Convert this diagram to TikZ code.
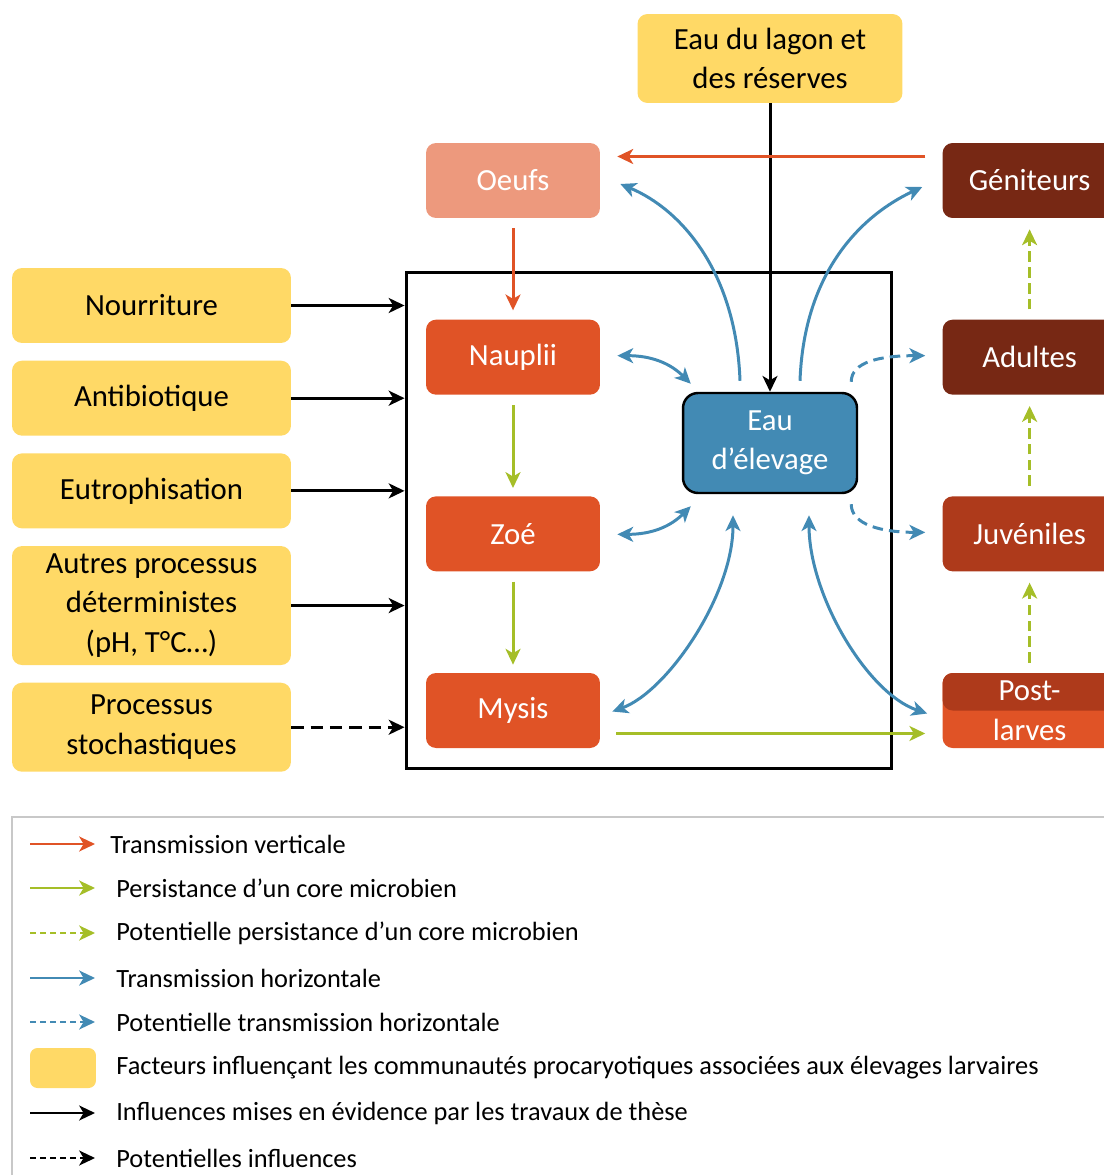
\documentclass[tikz,border=0pt]{standalone}
\usepackage{fontspec}
\setmainfont{Carlito}
\usetikzlibrary{positioning,arrows.meta,calc}

\definecolor{factoryellow}{RGB}{255,217,102}
\definecolor{eggpink}{RGB}{237,153,125}
\definecolor{larvaorange}{RGB}{224,83,38}
\definecolor{juvbrown}{RGB}{174,58,27}
\definecolor{adultbrown}{RGB}{119,40,20}
\definecolor{waterblue}{RGB}{66,138,180}
\definecolor{persistgreen}{RGB}{165,190,40}
\definecolor{legendgray}{RGB}{200,200,200}

\begin{document}
\begin{tikzpicture}[
    x=0.02cm, y=-0.02cm,
    font=\fontsize{17.5}{22.5}\selectfont,
    >={Stealth[length=9pt,width=8.5pt,inset=2.5pt]},
    node distance=2.02cm and 6.84cm,
    factorbox/.style={
        fill=factoryellow,
        rounded corners=0.2cm,
        align=center,
        inner sep=1pt,
        minimum width=5.58cm,
        minimum height=1.5cm
    },
    stagebox/.style={
        rounded corners=0.2cm,
        align=center,
        text=white,
        inner sep=1pt,
        minimum width=3.48cm,
        minimum height=1.5cm
    },
    waterbox/.style={
        draw=black,
        line width=1.4pt,
        fill=waterblue,
        text=white,
        rounded corners=0.3cm,
        align=center,
        minimum width=3.48cm,
        minimum height=2cm
    },
    vertarrow/.style={->, draw=larvaorange, line width=1.7pt},
    persist/.style={->, draw=persistgreen, line width=1.7pt},
    persistdash/.style={persist, dash pattern=on 6pt off 3pt},
    horiz/.style={->, draw=waterblue, line width=1.7pt},
    horizboth/.style={horiz, <->},
    horizdash/.style={horiz, dash pattern=on 6pt off 3.5pt},
    influence/.style={->, draw=black, line width=1.7pt},
    influencedash/.style={influence, dash pattern=on 7pt off 4pt},
    legendline/.style={line width=1.3pt},
    legenddash/.style={dash pattern=on 3.5pt off 2.2pt},
    legendtext/.style={anchor=west, inner sep=0pt, font=\fontsize{15}{18}\selectfont}
]
\useasboundingbox (0,0) rectangle (1104,1175);

% Water from the lagoon
\node[factorbox, minimum width=5.3cm, minimum height=1.78cm] (lagon) at (770,58.5) {Eau du lagon et\\des réserves};

% Larval stages
\node[stagebox, fill=eggpink] (oeufs) at (513,180.5) {Oeufs};
\node[stagebox, fill=larvaorange, below=of oeufs] (nauplii) {Nauplii};
\node[stagebox, fill=larvaorange, below=of nauplii] (zoe) {Zoé};
\node[stagebox, fill=larvaorange, below=of zoe] (mysis) {Mysis};

% Later stages
\node[stagebox, fill=adultbrown, right=of oeufs] (geniteurs) {Géniteurs};
\node[stagebox, fill=adultbrown, right=of nauplii] (adultes) {Adultes};
\node[stagebox, fill=juvbrown, right=of zoe] (juveniles) {Juvéniles};
\node[stagebox, fill=larvaorange, right=of mysis, path picture={
    \fill[juvbrown] (path picture bounding box.north west) rectangle (path picture bounding box.east);
}] (postlarves) {Post-\\larves};

% Rearing water and tank
\node[waterbox] (eau) at (770,443) {Eau\\d’élevage};
\node[draw, line width=1.7pt, minimum width=9.72cm, minimum height=9.92cm] (bac) at (649,520.5) {};

% Factors
\node[factorbox] (nourriture) at (151.5,305.5) {Nourriture};
\node[factorbox, below=0.34cm of nourriture] (antibio) {Antibiotique};
\node[factorbox, below=0.34cm of antibio] (eutroph) {Eutrophisation};
\node[factorbox, minimum height=2.38cm, below=0.34cm of eutroph] (autres) {Autres processus\\déterministes\\(pH, T°C…)};
\node[factorbox, minimum height=1.78cm, below=0.34cm of autres] (stocha) {Processus\\stochastiques};

% Influences
\draw[influence] (nourriture.east) -- (nourriture.east -| bac.west);
\draw[influence] (antibio.east) -- (antibio.east -| bac.west);
\draw[influence] (eutroph.east) -- (eutroph.east -| bac.west);
\draw[influence] (autres.east) -- (autres.east -| bac.west);
\draw[influencedash] (stocha.east) -- (stocha.east -| bac.west);
\draw[influence] (lagon) -- (eau);

% Vertical transmission
\draw[vertarrow] ($(geniteurs.west)+(-17,-24)$) -- ($(oeufs.east)+(17,-24)$);
\draw[vertarrow, shorten <=0.2cm, shorten >=0.18cm] (oeufs) -- (nauplii);

% Core persistence
\draw[persist, shorten <=0.2cm, shorten >=0.16cm] (nauplii) -- (zoe);
\draw[persist, shorten <=0.2cm, shorten >=0.16cm] (zoe) -- (mysis);
\draw[persist] ($(mysis.east)+(16,23)$) -- ($(postlarves.west)+(-17,23)$);
\draw[persistdash, shorten <=0.2cm, shorten >=0.22cm] (postlarves) -- (juveniles);
\draw[persistdash, shorten <=0.2cm, shorten >=0.22cm] (juveniles) -- (adultes);
\draw[persistdash, shorten <=0.2cm, shorten >=0.22cm] (adultes) -- (geniteurs);

% Horizontal transmission
\draw[horiz] ($(eau.north)+(-30,-11)$) .. controls +(-4,-110) and +(60,25) .. ($(oeufs.east)+(20,3.5)$);
\draw[horiz] ($(eau.north)+(30,-11)$) .. controls +(4,-110) and +(-60,28) .. ($(geniteurs.west)+(-20,6.5)$);
\draw[horizboth] ($(nauplii.east)+(17,-1.5)$) .. controls +(35,0) and +(-20,-20) .. ($(eau.north west)+(9,-8)$);
\draw[horizboth] ($(zoe.east)+(17,0.5)$) .. controls +(35,0) and +(-20,20) .. ($(eau.south west)+(9,12)$);
\draw[horizboth] ($(mysis.east)+(12,1)$) .. controls +(55,-20) and +(0,80) .. ($(eau.south)+(-37,21)$);
\draw[horizboth] ($(postlarves.west)+(-15,3)$) .. controls +(-60,-20) and +(0,80) .. ($(eau.south)+(39,21)$);
\draw[horizdash] ($(eau.north east)+(-7,-10)$) .. controls +(0,-20) and +(-45,0) .. ($(adultes.west)+(-17,-1.5)$);
\draw[horizdash] ($(eau.south east)+(-7,10)$) .. controls +(0,20) and +(-45,0) .. ($(juveniles.west)+(-17,-1.5)$);

% Legend
\draw[legendgray, line width=1.1pt] (12,817) rectangle (1120,1190);

\coordinate (lva) at (30,844); \coordinate (lvb) at (95,844);
\draw[vertarrow, legendline] (lva) -- (lvb);
\node[legendtext] (lvtext) at (110,844) {Transmission verticale};

\coordinate (lpa) at (30,888); \coordinate (lpb) at (95,888);
\draw[persist, legendline] (lpa) -- (lpb);
\node[legendtext] (lptext) at (116,888) {Persistance d’un core microbien};

\coordinate (lqa) at (30,933); \coordinate (lqb) at (95,933);
\draw[persist, legendline, legenddash] (lqa) -- (lqb);
\node[legendtext] (lqtext) at (116,933) {Potentielle persistance d’un core microbien};

\coordinate (lha) at (30,978); \coordinate (lhb) at (95,978);
\draw[horiz, legendline] (lha) -- (lhb);
\node[legendtext] (lhtext) at (116,978) {Transmission horizontale};

\coordinate (lka) at (30,1022); \coordinate (lkb) at (95,1022);
\draw[horiz, legendline, legenddash] (lka) -- (lkb);
\node[legendtext] (lktext) at (116,1022) {Potentielle transmission horizontale};

\node[fill=factoryellow, rounded corners=0.15cm, minimum width=1.32cm, minimum height=0.8cm, inner sep=0pt] (lfbox) at (63,1068) {};
\node[legendtext] (lftext) at (116,1068) {Facteurs influençant les communautés procaryotiques associées aux élevages larvaires};

\coordinate (lia) at (30,1113); \coordinate (lib) at (95,1113);
\draw[influence, legendline] (lia) -- (lib);
\node[legendtext] (litext) at (116,1113) {Influences mises en évidence par les travaux de thèse};

\coordinate (lja) at (30,1158); \coordinate (ljb) at (95,1158);
\draw[influence, legendline, legenddash] (lja) -- (ljb);
\node[legendtext] (ljtext) at (116,1158) {Potentielles influences};

\end{tikzpicture}
\end{document}
